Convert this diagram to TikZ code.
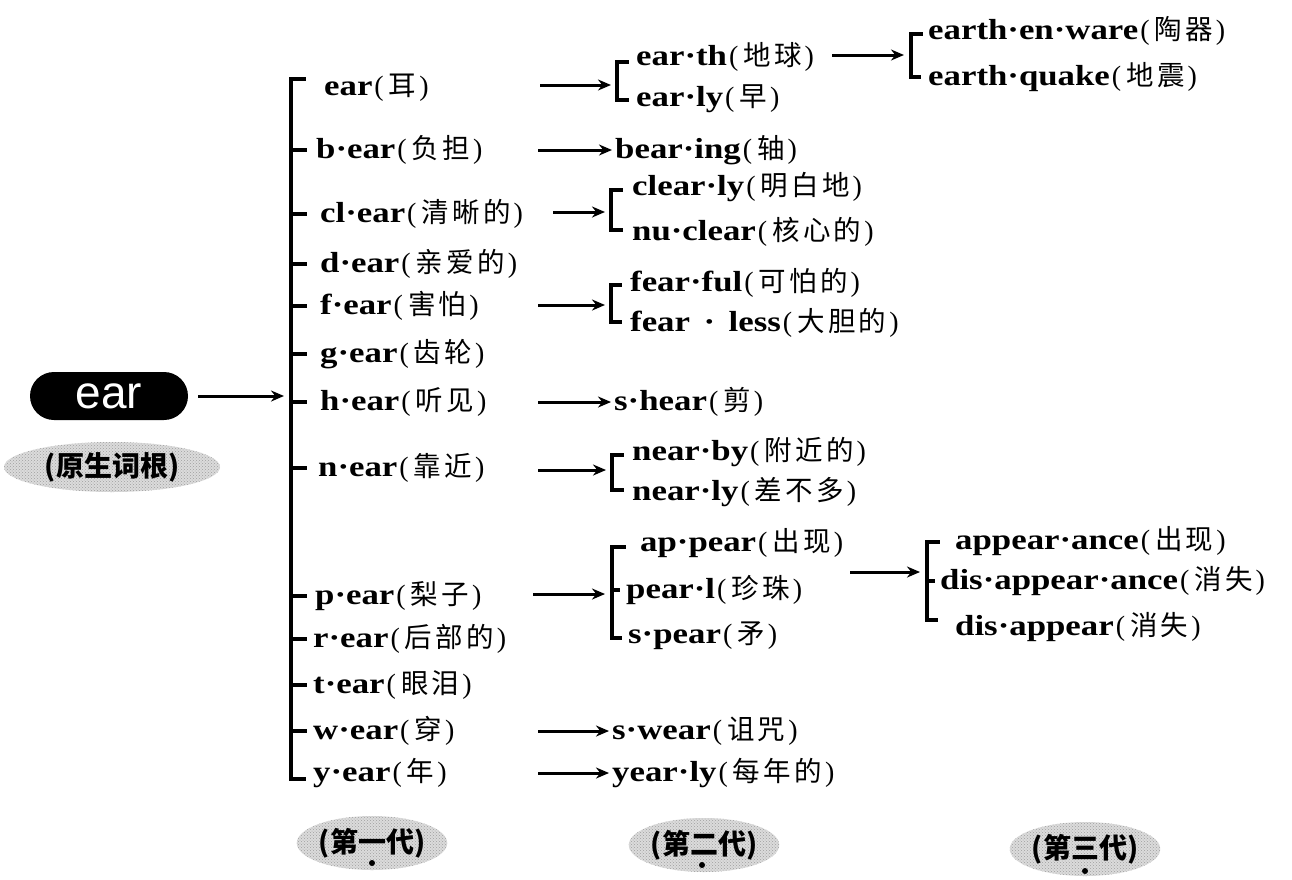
\documentclass[tikz,border=0pt]{standalone}
\usepackage{fontspec}
\setmainfont{Liberation Serif}
\newfontfamily\lat[FakeStretch=1.2]{Liberation Serif}
\newfontfamily\cjk[LetterSpace=12]{Noto Sans CJK SC}
\newfontfamily\cjkb{Noto Sans CJK SC}
\newfontfamily\lsans{Liberation Sans}
\usetikzlibrary{arrows.meta,shapes.geometric,patterns,calc}
\newcommand{\wrd}[2]{{\fontsize{29}{32}\selectfont\lat\bfseries #1}\hspace{2pt}{\fontsize{28}{32}\selectfont (}\hspace{5pt}{\fontsize{27.5}{32}\selectfont\cjk #2}\hspace{3pt}{\fontsize{28}{32}\selectfont )}}
\begin{document}
\begin{tikzpicture}[x=1pt,y=-1pt,
  wt/.style={anchor=west,inner sep=0pt},
  brk/.style={line width=3.8pt,line cap=rect,line join=miter},
  tick/.style={line width=3.2pt},
  arr/.style={line width=3pt,-{Stealth[length=13pt,width=11pt]}},
  arrs/.style={arr,shorten >=3pt},
  lab/.style={ellipse,inner sep=0pt,preaction={fill=gray!28},pattern=crosshatch dots,pattern color=gray!75,
     font=\fontsize{28}{30}\selectfont\bfseries\cjkb},
  root/.style={rounded corners=24pt,fill=black,text=white,minimum width=158pt,minimum height=48pt,inner sep=0pt,font=\fontsize{46}{46}\selectfont\lsans}]
\useasboundingbox (0,0) rectangle (1292,879);

% root
\node[root] (root) at (109,396) {ear};
\node[lab,minimum width=216pt,minimum height=50pt] (rootlab) at (112,467) {(原生词根)};
\coordinate (m) at (284,396);
\draw[arr] ($(root.east)+(10,0)$) -- (m);

% first generation
\node[wt] (a)  at (324,88)  {\wrd{ear}{耳}};
\node[wt] (b)  at (316,150) {\wrd{b·ear}{负担}};
\node[wt] (c)  at (320,214) {\wrd{cl·ear}{清晰的}};
\node[wt] (d)  at (320,264) {\wrd{d·ear}{亲爱的}};
\node[wt] (f)  at (320,306) {\wrd{f·ear}{害怕}};
\node[wt] (g)  at (320,354) {\wrd{g·ear}{齿轮}};
\node[wt] (h)  at (320,402) {\wrd{h·ear}{听见}};
\node[wt] (n)  at (318,468) {\wrd{n·ear}{靠近}};
\node[wt] (p)  at (315,596) {\wrd{p·ear}{梨子}};
\node[wt] (r)  at (313,639) {\wrd{r·ear}{后部的}};
\node[wt] (t)  at (313,685) {\wrd{t·ear}{眼泪}};
\node[wt] (w)  at (313,731) {\wrd{w·ear}{穿}};
\node[wt] (y)  at (313,773) {\wrd{y·ear}{年}};

% main bracket
\draw[brk] (304,79) -- (291,79) -- (291,779) -- (304,779);
\foreach \yy in {150,214,264,306,354,402,468,596,639,685,731}
  \draw[tick] (291,\yy) -- (307,\yy);

% second generation
\node[wt] (ea1) at (636,57)  {\wrd{ear·th}{地球}};
\node[wt] (ea2) at (636,99) {\wrd{ear·ly}{早}};
\draw[brk] (627,62) -- (617,62) -- (617,100) -- (627,100);
\coordinate (ea) at (611,85);
\draw[arr] (540,85) -- (ea);

\node[wt] (bi) at (615,150) {\wrd{bear·ing}{轴}};
\draw[arrs] (538,150) -- (bi.west);

\node[wt] (c1) at (632,187) {\wrd{clear·ly}{明白地}};
\node[wt] (c2) at (632,232) {\wrd{nu·clear}{核心的}};
\draw[brk] (621,190) -- (611,190) -- (611,230) -- (621,230);
\coordinate (cc) at (605,212);
\draw[arr] (553,212) -- (cc);

\node[wt] (f1) at (630,283) {\wrd{fear·ful}{可怕的}};
\node[wt] (f2) at (630,323) {\wrd{fear \,·\, less}{大胆的}};
\draw[brk] (620,285) -- (611,285) -- (611,322) -- (620,322);
\coordinate (ff) at (605,305);
\draw[arr] (538,305) -- (ff);

\node[wt] (sh) at (614,402) {\wrd{s·hear}{剪}};
\draw[arrs] (538,402) -- (sh.west);

\node[wt] (n1) at (632,452) {\wrd{near·by}{附近的}};
\node[wt] (n2) at (632,492) {\wrd{near·ly}{差不多}};
\draw[brk] (622,455) -- (612,455) -- (612,490) -- (622,490);
\coordinate (nn) at (606,470);
\draw[arr] (538,470) -- (nn);

\node[wt] (p1) at (640,543) {\wrd{ap·pear}{出现}};
\node[wt] (p2) at (626,590) {\wrd{pear·l}{珍珠}};
\node[wt] (p3) at (628,636) {\wrd{s·pear}{矛}};
\draw[brk] (624,547) -- (612,547) -- (612,638) -- (620,638);
\draw[tick] (612,590) -- (620,590);
\coordinate (pp) at (605,594);
\draw[arr] (533,594) -- (pp);

\node[wt] (sw) at (612,731) {\wrd{s·wear}{诅咒}};
\draw[arrs] (538,731) -- (sw.west);
\node[wt] (yl) at (612,773) {\wrd{year·ly}{每年的}};
\draw[arrs] (538,773) -- (yl.west);

% third generation
\node[wt] (e1) at (928,31) {\wrd{earth·en·ware}{陶器}};
\node[wt] (e2) at (928,77) {\wrd{earth·quake}{地震}};
\draw[brk] (921,34) -- (911,34) -- (911,77) -- (919,77);
\coordinate (ee) at (904,55);
\draw[arr] (832,55) -- (ee);

\node[wt] (q1) at (955,541) {\wrd{appear·ance}{出现}};
\node[wt] (q2) at (940,581) {\wrd{dis·appear·ance}{消失}};
\node[wt] (q3) at (955,627) {\wrd{dis·appear}{消失}};
\draw[brk] (938,542) -- (927,542) -- (927,620) -- (936,620);
\draw[tick] (927,581) -- (935,581);
\coordinate (qq) at (920,572);
\draw[arr] (850,572) -- (qq);

% generation labels
\node[lab,minimum width=116pt,minimum height=54pt] (l1) at (372,843) {(第一代)};
\node[lab,minimum width=114pt,minimum height=54pt] (l2) at (704,845) {(第二代)};
\node[lab,minimum width=112pt,minimum height=54pt] (l3) at (1085,849) {(第三代)};
\fill ($(l1.center)+(0,20)$) circle (3pt);
\fill ($(l2.center)+(-2,20)$) circle (3pt);
\fill ($(l3.center)+(0,22)$) circle (3pt);
\end{tikzpicture}
\end{document}
